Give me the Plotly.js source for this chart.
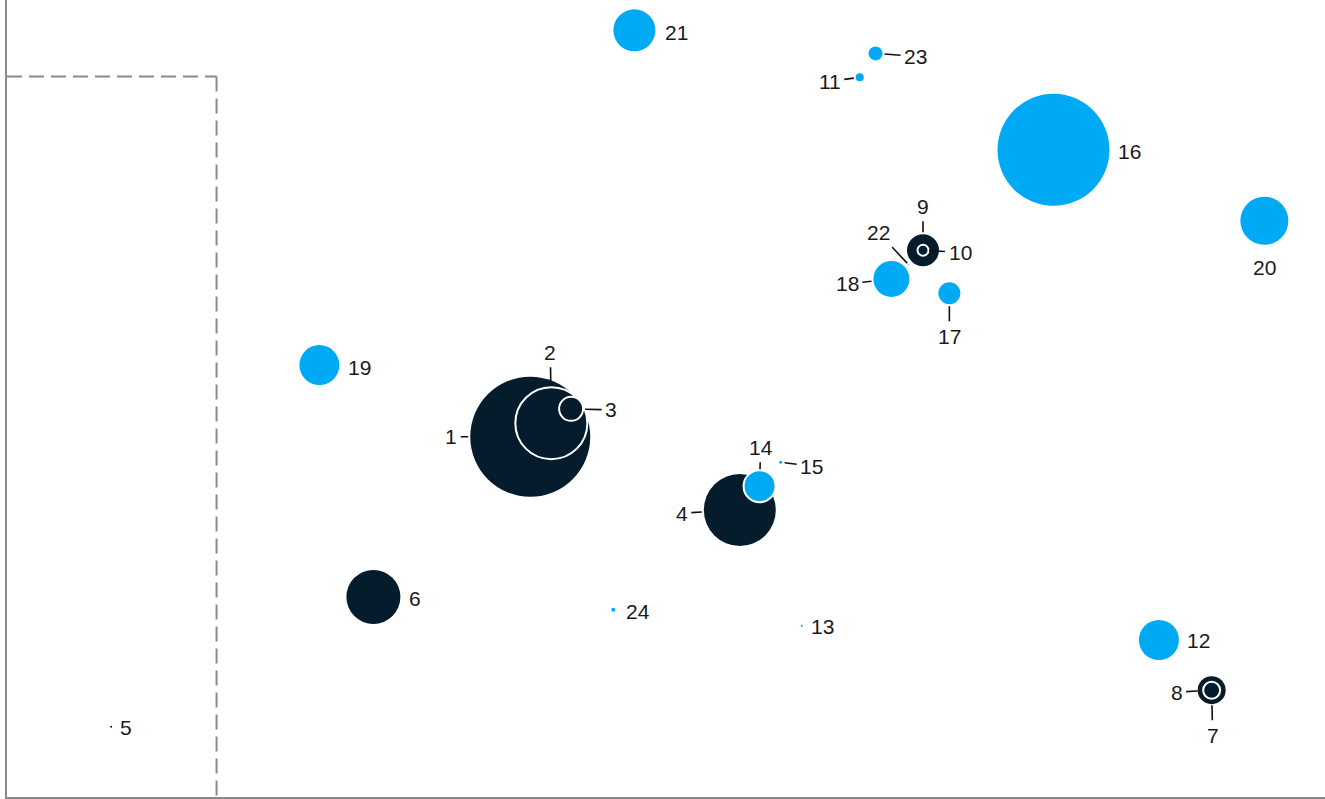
<!DOCTYPE html>
<html><head><meta charset="utf-8">
<script src="https://cdn.plot.ly/plotly-3.0.1.min.js"></script>
<style>html,body{margin:0;padding:0;background:#fff}#chart{width:1325px;height:799px}</style>
</head><body><div id="chart"></div>
<script>
// Data
const ids = ["1","2","3","4","5","6","7","8","9","10","11","12","13","14","15","16","17","18","19","20","21","22","23","24"];
const xVals = [39.7,41.3,42.8,55.6,7.9,27.8,91.4,91.4,69.5,69.5,64.7,87.4,60.3,57.1,58.7,79.4,71.5,67.1,23.7,95.4,47.6,68.4,65.9,46.0];
const yVals = [45.2,46.9,48.7,36.0,8.8,25.1,13.4,13.4,68.6,68.6,90.3,19.7,21.5,39.0,42.0,81.2,63.2,65.0,54.2,72.3,96.2,66.8,93.3,23.5];
const sizes = [120,72,24,72,2,54,28,17,32,11,8,40,2,32,3,112,22,36,40,48,42,1,14,4];
const group = ["A","A","A","A","A","A","A","A","A","A","B","B","B","B","B","B","B","B","B","B","B","B","B","B"];
const zoneX = 15.9, zoneY = 90.4;

// Styles
const colorMap = {A:"#051c2c", B:"#00a9f4"};
const outlined = {"2":1,"3":1,"8":1,"10":1,"14":1};
// label offsets (px) relative to point, and leader standoff (null = no leader)
const labelCfg = {
 "1":[-79,0,62], "2":[-1,-71,38], "3":[40,1,14], "4":[-58,3,38], "5":[15,1,null],
 "6":[42,2,null], "7":[1,45,15], "8":[-35,2,14], "9":[0,-44,18], "10":[37,2,6],
 "11":[-30,4,6], "12":[40,1,null], "13":[21,1,null], "14":[1,-39,17], "15":[31,4,4],
 "16":[76,2,null], "17":[0,43,13], "18":[-44,5,20], "19":[40,2,null], "20":[0,47,null],
 "21":[42,2,null], "22":[-30,-32,2], "23":[40,3,9], "24":[25,2,null]
};

const trace = {
  type:"scatter", mode:"markers", x:xVals, y:yVals, text:ids, hoverinfo:"text",
  marker:{
    size:sizes, sizemode:"diameter", sizeref:1, opacity:1,
    color:group.map(g=>colorMap[g]),
    line:{color:"#ffffff", width:ids.map(i=>outlined[i]?2:0)}
  },
  cliponaxis:false
};

const annotations = ids.map((id,i)=>{
  const c = labelCfg[id];
  return {
    x:xVals[i], y:yVals[i], xref:"x", yref:"y", text:id,
    showarrow:true, ax:c[0], ay:c[1], arrowhead:0,
    arrowwidth:1.6, arrowcolor: c[2]===null ? "rgba(0,0,0,0)" : "#111111",
    standoff: c[2]===null ? 0 : c[2], startstandoff:2,
    font:{family:"Liberation Sans, Arial, sans-serif", size:21, color:"#1a1a1a"}
  };
});

const layout = {
  width:1325, height:799, margin:{l:7,r:0,t:0,b:2},
  paper_bgcolor:"#fff", plot_bgcolor:"#fff", showlegend:false,
  xaxis:{range:[0,100], showgrid:false, zeroline:false, showticklabels:false, ticks:"",
         showline:true, linecolor:"#8a8a8a", linewidth:2},
  yaxis:{range:[0,100], showgrid:false, zeroline:false, showticklabels:false, ticks:"",
         showline:true, linecolor:"#8a8a8a", linewidth:2},
  shapes:[
    {type:"line", xref:"x", yref:"y", x0:0, x1:zoneX, y0:zoneY, y1:zoneY, line:{color:"#8a8a8a", width:2, dash:"15px,7px"}, layer:"below"},
    {type:"line", xref:"x", yref:"y", x0:zoneX, x1:zoneX, y0:zoneY, y1:0, line:{color:"#8a8a8a", width:2, dash:"15px,7px"}, layer:"below"}
  ],
  annotations:annotations
};
Plotly.newPlot("chart",[trace],layout,{displayModeBar:false, staticPlot:true});
</script></body></html>
